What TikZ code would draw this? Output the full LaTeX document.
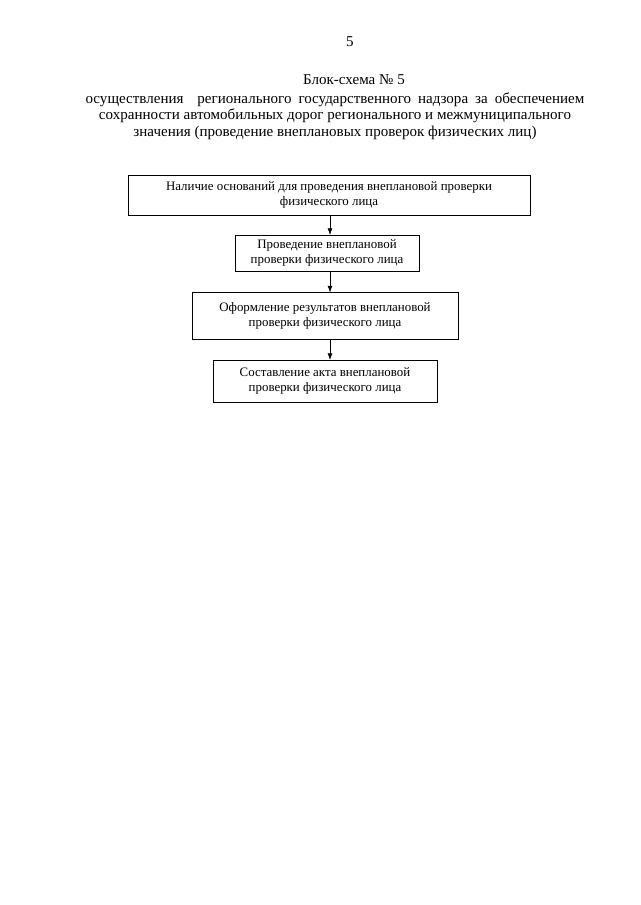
\documentclass[tikz,border=0pt]{standalone}
\usepackage{fontspec}
\setmainfont{Liberation Serif}
\usetikzlibrary{positioning,arrows.meta}

\begin{document}
\begin{tikzpicture}[x=0.9302pt,y=-0.9302pt,
                    every node/.style={font=\fontsize{12}{14}\selectfont},
                    stepbox/.style={draw, thin, align=center, inner sep=2pt},
                    ar/.style={-{Latex[length=6pt,width=4.5pt]},thin}]
  \useasboundingbox (0,0) rectangle (640,905);
  \node (pnum) at (350,42) {\fontsize{14}{16}\selectfont 5};
  \node (head) at (354,80) {\fontsize{14}{16}\selectfont Блок-схема № 5};
  \node[align=center, font=\fontsize{14}{15.6}\selectfont] (title) at (335,116)
    {\makebox[464pt][s]{осуществления\ \ регионального государственного надзора за обеспечением}\\
     сохранности автомобильных дорог регионального и межмуниципального\\
     значения (проведение внеплановых проверок физических лиц)};
  \node[stepbox, minimum width=374pt, minimum height=37.2pt] (s1) at (329,195)
    {Наличие оснований для проведения внеплановой проверки\\физического лица};
  \node[stepbox, minimum width=171pt, minimum height=33.5pt] (s2) at (327,253)
    {Проведение внеплановой\\проверки физического лица};
  \node[stepbox, minimum width=247.4pt, minimum height=43.7pt] (s3) at (325,316)
    {Оформление результатов внеплановой\\проверки физического лица};
  \node[stepbox, minimum width=208.4pt, minimum height=39pt] (s4) at (325,381)
    {Составление акта внеплановой\\проверки физического лица};
  \draw[ar] (s1.south -| 330,0) -- (s2.north -| 330,0);
  \draw[ar] (s2.south -| 330,0) -- (s3.north -| 330,0);
  \draw[ar] (s3.south -| 330,0) -- (s4.north -| 330,0);
\end{tikzpicture}
\end{document}
